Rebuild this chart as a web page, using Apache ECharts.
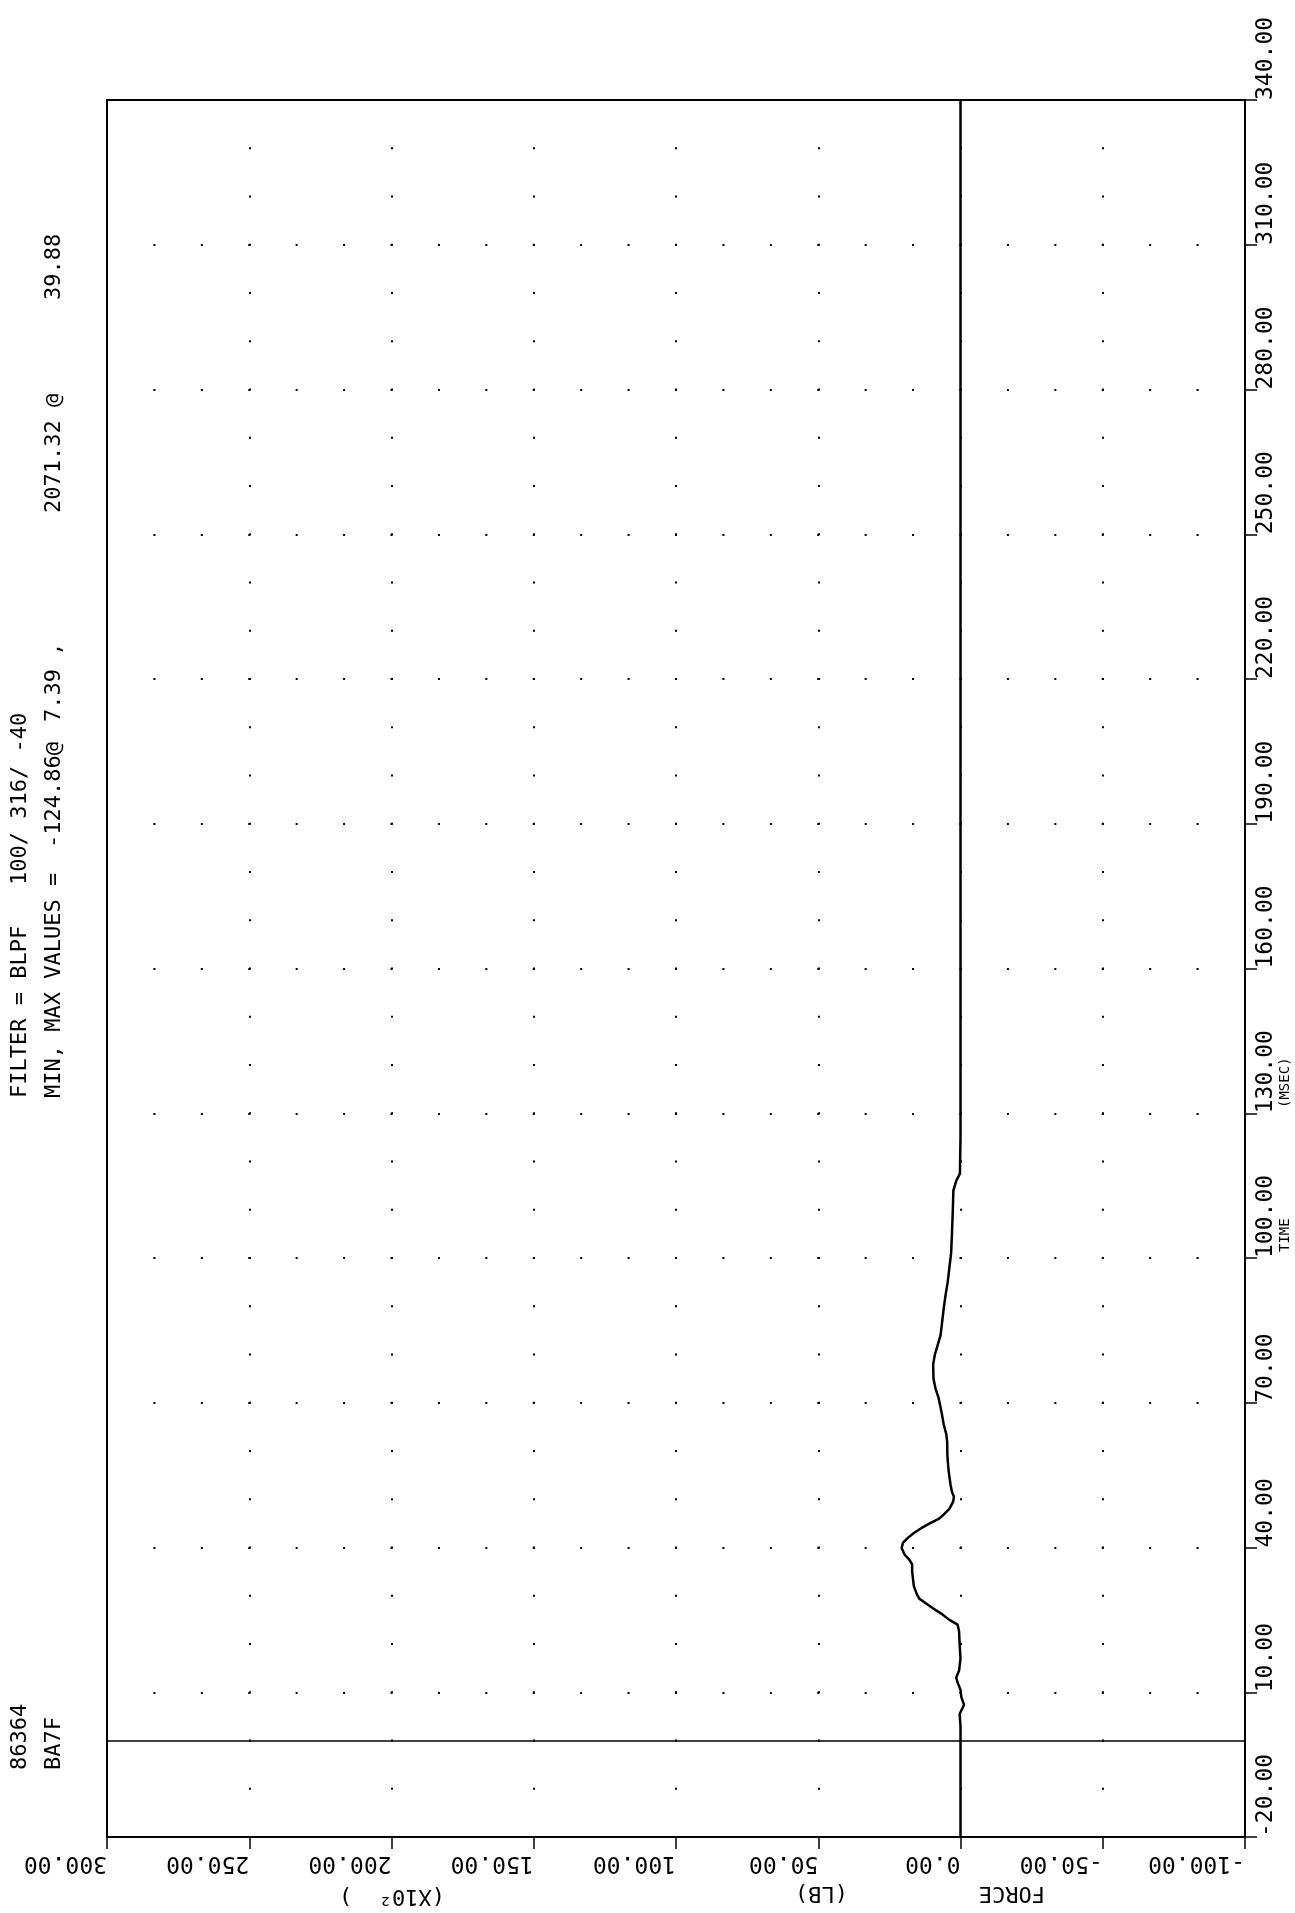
<!DOCTYPE html>
<html>
<head>
<meta charset="utf-8">
<title>FORCE vs TIME</title>
<style>
  html, body { margin: 0; padding: 0; background: #fff; }
  #main { width: 1295px; height: 1913px; }
</style>
<script src="https://cdn.jsdelivr.net/npm/echarts@6/dist/echarts.min.js"></script>
</head>
<body>
<div id="main"></div>
<script>
// time in msec, force in lb (x10^2)
var timeMs = [-20, -10, 0, 3, 5.5, 7.4, 9, 10.5, 12, 13, 14.5, 17, 20, 22.6, 24,
  25, 26.3, 27.4, 28.4, 29.4, 30.4, 32, 35, 36.5, 37.5, 38.5, 39.9, 41, 42, 43,
  44, 45, 46, 47, 48, 49.5, 50.5, 51.5, 53, 56, 59, 62, 63.5, 65.5, 67.5, 69,
  71, 73, 75, 78, 80, 82, 84, 87, 90, 92.5, 95, 98, 101, 105, 110, 114, 116,
  117.5, 125, 150, 200, 250, 300, 340];
var forceLb = [0, 0, 0, 0, 0.3, -1.25, -0.3, 0, 1.0, 1.5, 0.5, 0, 0.3, 0.5, 1.0,
  3.9, 6.8, 9.7, 12.1, 14.5, 15.4, 16.4, 17.0, 17.0, 18.0, 19.6, 20.7, 20.2, 18.5, 16.4,
  13.8, 10.8, 7.5, 5.6, 3.9, 2.6, 2.3, 3.0, 3.5, 4.2, 4.6, 4.7, 5.0, 5.9, 6.5, 7.0,
  7.7, 8.8, 9.5, 9.6, 9.0, 8.0, 7.0, 6.4, 5.8, 5.2, 4.5, 3.9, 3.3, 3.0, 2.7, 2.5, 1.5,
  0.2, 0, 0, 0, 0, 0, 0];
var timeTicks = [-20, 10, 40, 70, 100, 130, 160, 190, 220, 250, 280, 310, 340];

var testId = '86364';
var testCode = 'BA7F';
var filterText = 'FILTER = BLPF';
var filterArgs = '100/ 316/ -40';
var minMaxText = 'MIN, MAX VALUES =';
var minVal = '-124.86@';
var minTime = '7.39 ,';
var maxVal = '2071.32 @';
var maxTime = '39.88';

var MONO = '"DejaVu Sans Mono", monospace';
var W = 1295, H = 1913;
var gl = 107, gr = 50, gt = 100, gb = 76;
var gw = W - gl - gr, gh = H - gt - gb;
// dotted grid: one dot per minor step of the other axis
var timeStep = gh * 10 / 360;
var forceStep = gw * (50 / 3) / 400;

var chart = echarts.init(document.getElementById('main'));

var seriesData = timeMs.map(function(t, i) { return [forceLb[i], t]; });

function txt(x, y, rot, s, size) {
  return {
    type: 'text', x: x, y: y, rotation: rot, silent: true,
    style: { text: s, fill: '#000', fontFamily: MONO, fontSize: size || 22,
             align: 'left', verticalAlign: 'middle' }
  };
}

var option = {
  animation: false,
  backgroundColor: '#fff',
  grid: { left: gl, right: gr, top: gt, bottom: gb, show: true,
          borderColor: '#000', borderWidth: 2, backgroundColor: 'transparent',
          outerBoundsMode: 'none' },
  xAxis: {
    type: 'value', min: -100, max: 300, interval: 50, inverse: true,
    axisLine: { show: true, onZero: false, lineStyle: { color: '#000', width: 2 } },
    axisTick: { show: true, length: 12, lineStyle: { color: '#000', width: 1.5 } },
    axisLabel: {
      rotate: 180, align: 'left', verticalAlign: 'middle', margin: 26,
      fontFamily: MONO, fontSize: 23, color: '#000',
      showMinLabel: true, showMaxLabel: true,
      formatter: function(v) { return v.toFixed(2); }
    },
    splitLine: { show: true, lineStyle: { color: '#000', width: 2,
                 type: [2, timeStep - 2], dashOffset: 1 } }
  },
  yAxis: {
    type: 'value', position: 'right', min: -20, max: 340,
    axisLine: { show: true, onZero: false, lineStyle: { color: '#000', width: 2 } },
    axisTick: { show: true, length: 12, customValues: timeTicks,
                lineStyle: { color: '#000', width: 1.5 } },
    axisLabel: {
      customValues: timeTicks,
      rotate: 90, align: 'left', verticalAlign: 'middle', margin: 21,
      fontFamily: MONO, fontSize: 23, color: '#000',
      showMinLabel: true, showMaxLabel: true,
      formatter: function(v) { return v.toFixed(2); }
    },
    splitLine: { show: true, lineStyle: { color: '#000', width: 2,
                 type: [2, forceStep - 2], dashOffset: 1 } }
  },
  series: [{
    type: 'line',
    data: seriesData,
    symbol: 'none',
    lineStyle: { color: '#000', width: 2.5 },
    markLine: {
      silent: true, symbol: ['none', 'none'],
      label: { show: false },
      lineStyle: { color: '#000', width: 1.5, type: 'solid' },
      data: [{ yAxis: 0 }]
    }
  }],
  graphic: [
    txt(20, 1770, Math.PI / 2, testId),
    txt(54, 1770, Math.PI / 2, testCode),
    txt(20, 1098, Math.PI / 2, filterText),
    txt(20, 885, Math.PI / 2, filterArgs),
    txt(54, 1098, Math.PI / 2, minMaxText),
    txt(54, 848, Math.PI / 2, minVal),
    txt(54, 722, Math.PI / 2, minTime),
    txt(54, 513, Math.PI / 2, maxVal),
    txt(54, 300, Math.PI / 2, maxTime),
    txt(1285, 1252, Math.PI / 2, 'TIME', 14),
    txt(1285, 1108, Math.PI / 2, '(MSEC)', 14),
    txt(1045, 1893, Math.PI, 'FORCE', 22),
    txt(848, 1893, Math.PI, '(LB)', 22),
    txt(445, 1896, Math.PI, '(X10\u00b2  )', 22)
  ]
};

chart.setOption(option);
</script>
</body>
</html>
